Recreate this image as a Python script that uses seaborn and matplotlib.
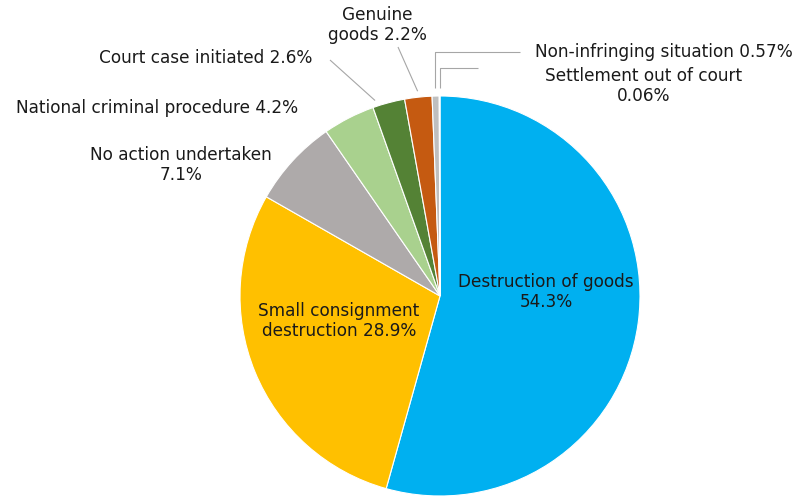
import numpy as np
import matplotlib
matplotlib.use("Agg")
import matplotlib.pyplot as plt
import seaborn as sns

# Outcomes of detained consignments (share of cases, %)
categories = [
    "Destruction of goods",
    "Small consignment destruction",
    "No action undertaken",
    "National criminal procedure",
    "Court case initiated",
    "Genuine goods",
    "Non-infringing situation",
    "Settlement out of court",
]
shares = [54.3, 28.9, 7.1, 4.2, 2.6, 2.2, 0.57, 0.06]
share_labels = ["54.3%", "28.9%", "7.1%", "4.2%", "2.6%", "2.2%", "0.57%", "0.06%"]
colors = ["#00B0F0", "#FFC000", "#AEAAAA", "#A9D18E",
          "#548235", "#C55A11", "#BFBFBF", "#E0A080"]

sns.set_theme(style="white")
plt.rcParams["font.family"] = ["DejaVu Sans"]

W, H, DPI = 801, 496, 100
fig = plt.figure(figsize=(W / DPI, H / DPI), dpi=DPI)
ax = fig.add_axes([0, 0, 1, 1])

# pie centre and radius in pixels; axes mapped so 1 data unit = radius
cx, cy, R = 440, 296, 200


def px(x, y):
    return (x - cx) / R, (cy - y) / R


wedges, _ = ax.pie(
    shares, colors=sns.color_palette(colors), startangle=90, counterclock=False,
    radius=1.0, center=(0, 0), frame=False,
    wedgeprops=dict(edgecolor="white", linewidth=0.8),
)
ax.set_xlim(-cx / R, (W - cx) / R)
ax.set_ylim(-(H - cy) / R, cy / R)
ax.set_aspect("equal")
ax.axis("off")

txt = dict(fontsize=12.2, color="#1a1a1a", ha="center", va="center",
           linespacing=1.18)

# label texts and their positions (pixel layout)
label_text = {
    0: f"{categories[0]}\n{share_labels[0]}",
    1: "Small consignment\ndestruction " + share_labels[1],
    2: f"{categories[2]}\n{share_labels[2]}",
    3: f"{categories[3]} {share_labels[3]}",
    4: f"{categories[4]} {share_labels[4]}",
    5: "Genuine\ngoods " + share_labels[5],
    6: f"{categories[6]} {share_labels[6]}",
    7: f"{categories[7]}\n{share_labels[7]}",
}
label_pos = {
    0: (546, 292), 1: (339, 321), 2: (181, 165), 3: (157, 108),
    4: (206, 58), 5: (377, 25), 6: (664, 52), 7: (644, 86),
}
for i, s in label_text.items():
    ax.text(*px(*label_pos[i]), s, **txt)


def mid_point(i, r, shift=0.0):
    w = wedges[i]
    a = np.deg2rad((w.theta1 + w.theta2) / 2 + shift)
    return r * np.cos(a), r * np.sin(a)


line = dict(color="#A6A6A6", lw=0.8, solid_capstyle="butt")

# straight leader lines
for i, end, shift in [(4, (330, 60), 3.5), (5, (398, 47), 0.0)]:
    x0, y0 = mid_point(i, 1.03, shift)
    x1, y1 = px(*end)
    ax.plot([x0, x1], [y0, y1], **line)

# elbow leader lines for the two thinnest slices
for i, (ey, ex) in [(6, (52, 520)), (7, (68, 478))]:
    x0, y0 = mid_point(i, 1.04)
    _, yk = px(0, ey)
    x1, _ = px(ex, 0)
    ax.plot([x0, x0, x1], [y0, yk, yk], **line)

fig.savefig("out.png", dpi=DPI, facecolor="white")
